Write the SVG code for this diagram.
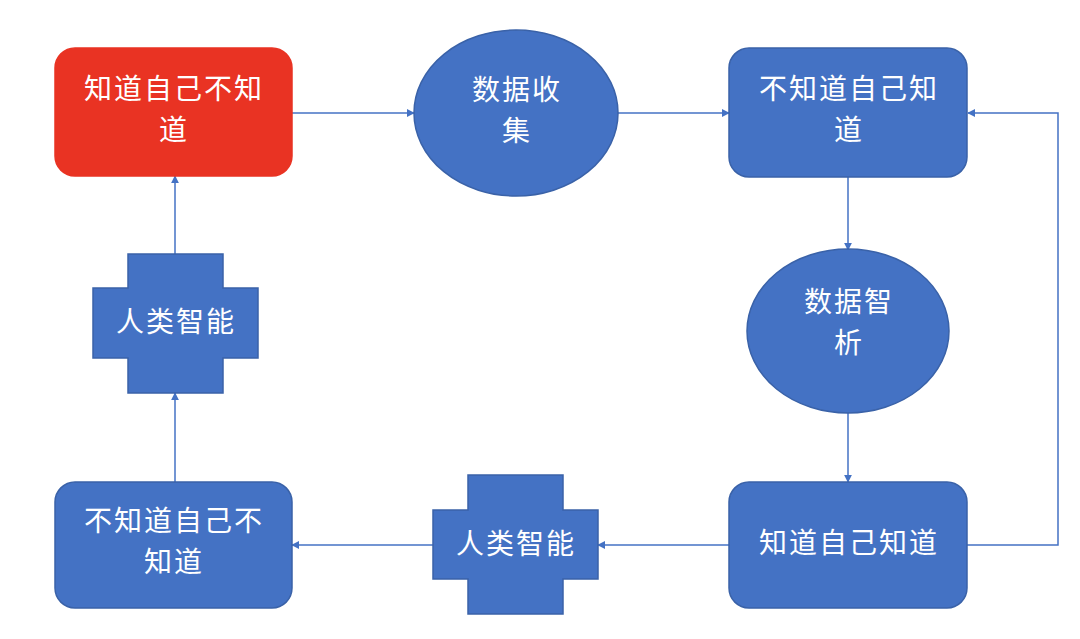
<svg xmlns="http://www.w3.org/2000/svg" width="1080" height="639" viewBox="0 0 1080 639">
<defs>
<style>
.box{fill:#4472C4;stroke:#3A62A8;stroke-width:1.5}
.red{fill:#E93323;stroke:#E93323}
.t{font-family:"Noto Sans CJK SC","Noto Sans",sans-serif;font-size:28px;letter-spacing:2px;fill:#fff;text-anchor:middle;dominant-baseline:central}
.c{fill:none;stroke:#4472C4;stroke-width:1.5;marker-end:url(#ah)}
</style>
<marker id="ah" viewBox="0 0 10 10" refX="9" refY="5" markerWidth="8" markerHeight="8" markerUnits="userSpaceOnUse" orient="auto">
<path d="M0,0 L10,5 L0,10 z" fill="#4472C4"/>
</marker>
</defs>
<rect width="1080" height="639" fill="#fff"/>
<g id="connectors">
<line class="c" x1="292" y1="113" x2="414" y2="113"/>
<line class="c" x1="618" y1="113" x2="729" y2="113"/>
<line class="c" x1="848" y1="177" x2="848" y2="250"/>
<line class="c" x1="848" y1="413" x2="848" y2="482"/>
<polyline class="c" points="967,545 1058,545 1058,113 968,113"/>
<line class="c" x1="729" y1="545" x2="598" y2="545"/>
<line class="c" x1="433" y1="545" x2="292" y2="545"/>
<line class="c" x1="175" y1="482" x2="175" y2="393"/>
<line class="c" x1="175" y1="254" x2="175" y2="176"/>
</g>
<g id="n1">
<rect class="box red" x="55" y="48" width="237" height="128" rx="20"/>
<text class="t"><tspan x="174" y="87">知道自己不知</tspan><tspan x="174" y="128">道</tspan></text>
</g>
<g id="n2">
<ellipse class="box" cx="516" cy="113" rx="102" ry="83"/>
<text class="t"><tspan x="517" y="88">数据收</tspan><tspan x="517" y="129">集</tspan></text>
</g>
<g id="n3">
<rect class="box" x="729" y="48" width="238" height="129" rx="20"/>
<text class="t"><tspan x="849" y="87">不知道自己知</tspan><tspan x="849" y="128">道</tspan></text>
</g>
<g id="n4">
<ellipse class="box" cx="848" cy="331" rx="101" ry="82"/>
<text class="t"><tspan x="849" y="300">数据智</tspan><tspan x="849" y="341">析</tspan></text>
</g>
<g id="n5">
<rect class="box" x="729" y="482" width="238" height="126" rx="20"/>
<text class="t" x="849" y="541">知道自己知道</text>
</g>
<g id="n6">
<path class="box" d="M468,475 H563 V510 H598 V579 H563 V614 H468 V579 H433 V510 H468 Z"/>
<text class="t" x="516" y="542">人类智能</text>
</g>
<g id="n7">
<rect class="box" x="55" y="482" width="237" height="126" rx="20"/>
<text class="t"><tspan x="174" y="519">不知道自己不</tspan><tspan x="174" y="560">知道</tspan></text>
</g>
<g id="n8">
<path class="box" d="M128,254 H223 V288 H258 V358 H223 V393 H128 V358 H93 V288 H128 Z"/>
<text class="t" x="176" y="320">人类智能</text>
</g>
</svg>
